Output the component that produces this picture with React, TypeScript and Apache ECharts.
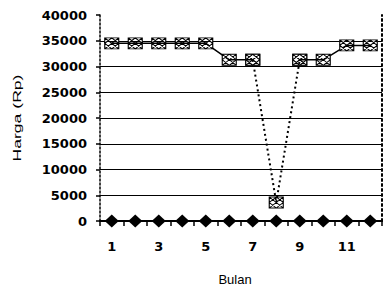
import React, { useEffect, useRef } from "react";
import * as echarts from "echarts";

const months = ["1", "2", "3", "4", "5", "6", "7", "8", "9", "10", "11", "12"];
const priceValues = [34500, 34500, 34500, 34500, 34500, 31300, 31300, 3600, 31300, 31300, 34100, 34100];
const zeroValues = [0, 0, 0, 0, 0, 0, 0, 0, 0, 0, 0, 0];
const dipIndexes = [6, 7, 8];
const yMin = 0;
const yMax = 40000;
const yStep = 5000;

const crossMarker =
  "path://M0,0H10V10H0Z M0,0L10,10 M10,0L0,10 M5,0L0,5L5,10L10,5Z";

export default function App() {
  const ref = useRef<HTMLDivElement>(null);
  useEffect(() => {
    if (!ref.current) return;
    const chart = echarts.init(ref.current, undefined, { renderer: "svg" });
    const solidData = priceValues.map((v, i) => (i === 7 ? null : v));
    const dipData = priceValues.map((v, i) => (dipIndexes.includes(i) ? v : null));
    const labelFont = "DejaVu Sans";
    chart.setOption({
      animation: false,
      backgroundColor: "#fff",
      grid: { left: 100, right: 3, top: 15, bottom: 68 },
      xAxis: [
        {
          type: "category",
          data: months,
          boundaryGap: true,
          axisLine: { show: true, lineStyle: { color: "#000", width: 2 } },
          axisTick: { show: true, interval: 0, length: 5, lineStyle: { color: "#000", width: 1.5 } },
          axisLabel: {
            interval: 1,
            color: "#000",
            fontFamily: labelFont,
            fontSize: 13,
            fontWeight: "bold",
            margin: 19,
          },
          splitLine: { show: false },
        },
        {
          type: "category",
          data: months,
          position: "top",
          axisLine: { show: true, lineStyle: { color: "#000", width: 1.5, type: [2, 3] } },
          axisTick: { show: false },
          axisLabel: { show: false },
        },
      ],
      yAxis: [
        {
          type: "value",
          min: yMin,
          max: yMax,
          interval: yStep,
          axisLine: { show: true, lineStyle: { color: "#000", width: 1.5, type: [2, 2] } },
          axisTick: { show: true, length: 4, lineStyle: { color: "#000", width: 1.5 } },
          axisLabel: {
            color: "#000",
            fontFamily: labelFont,
            fontSize: 13,
            fontWeight: "bold",
            margin: 13,
            formatter: (v: number) => String(v),
          },
          splitLine: {
            show: true,
            showMinLine: false,
            showMaxLine: false,
            lineStyle: { color: "#000", width: 1.2 },
          },
        },
        {
          type: "value",
          min: yMin,
          max: yMax,
          interval: yStep,
          position: "right",
          axisLine: { show: true, lineStyle: { color: "#000", width: 2, type: [2, 3] } },
          axisTick: { show: false },
          axisLabel: { show: false },
          splitLine: { show: false },
        },
      ],
      graphic: [
        {
          type: "text",
          x: 17,
          y: 118,
          rotation: Math.PI / 2,
          scaleX: 1.6,
          style: {
            text: "Harga (Rp)",
            fontFamily: "Liberation Sans",
            fontSize: 11,
            fill: "#000",
            align: "center",
            verticalAlign: "middle",
          },
        },
        {
          type: "text",
          x: 235,
          y: 279,
          style: {
            text: "Bulan",
            fontFamily: "Liberation Sans",
            fontSize: 13,
            fill: "#000",
            align: "center",
            verticalAlign: "middle",
          },
        },
      ],
      series: [
        {
          type: "line",
          data: zeroValues,
          symbol: "diamond",
          symbolSize: [14, 13],
          itemStyle: { color: "#000" },
          lineStyle: { color: "#000", width: 2 },
          z: 3,
        },
        {
          type: "line",
          data: dipData,
          symbol: crossMarker,
          symbolSize: [14, 11],
          connectNulls: false,
          itemStyle: { color: "#fff", borderColor: "#000", borderWidth: 1 },
          lineStyle: { color: "#000", width: 2, type: [2, 3] },
          z: 4,
        },
        {
          type: "line",
          data: solidData,
          symbol: crossMarker,
          symbolSize: [14, 11],
          connectNulls: false,
          itemStyle: { color: "#fff", borderColor: "#000", borderWidth: 1 },
          lineStyle: { color: "#000", width: 1.5 },
          z: 5,
        },
      ],
    });
    return () => chart.dispose();
  }, []);
  return (
    <div
      ref={ref}
      style={{ position: "absolute", left: 0, top: 0, width: 385, height: 289 }}
    />
  );
}
